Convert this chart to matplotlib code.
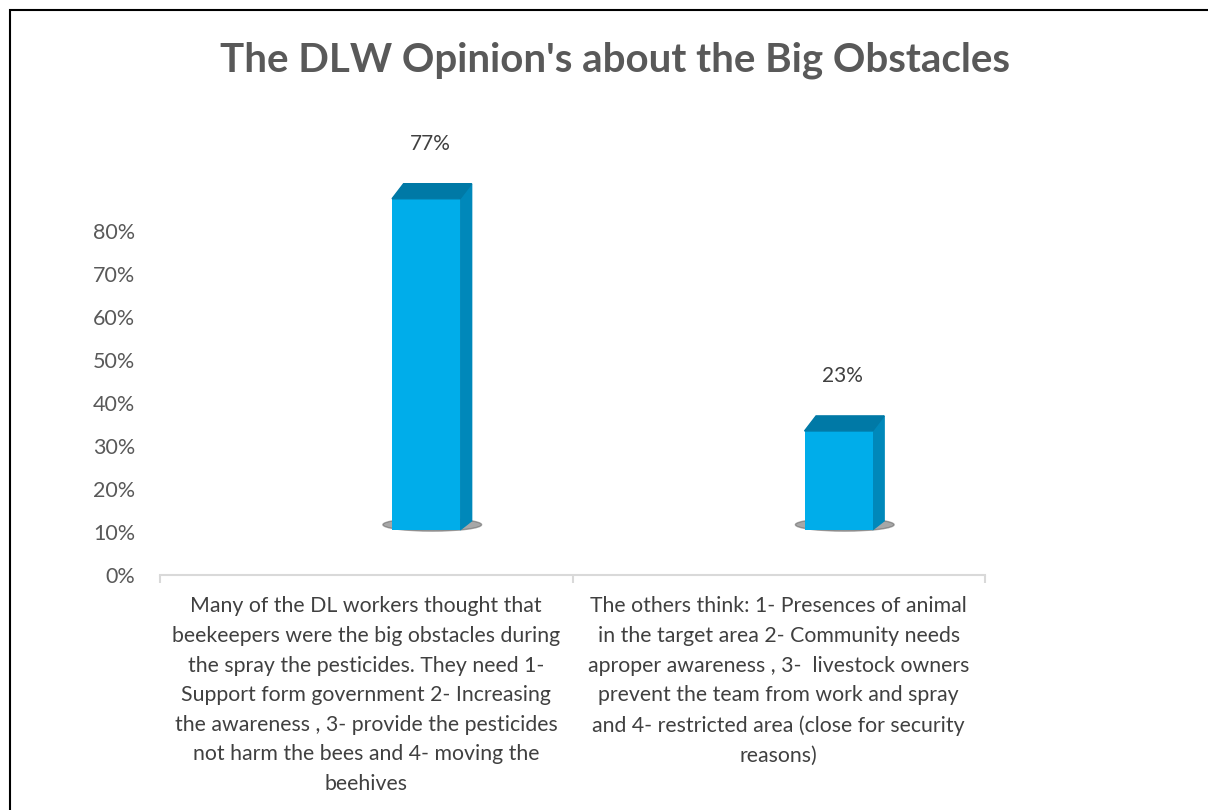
"""Recreate the 'DLW Opinion' 3D-style bar chart."""

import matplotlib.pyplot as plt
from matplotlib.patches import Polygon, Ellipse, Rectangle

CATEGORIES = [
    "Many of the DL workers thought that\nbeekeepers were the big obstacles during\n"
    "the spray the pesticides. They need 1-\nSupport form government 2- Increasing\n"
    "the awareness , 3- provide the pesticides\nnot harm the bees and 4- moving the\nbeehives",
    "The others think: 1- Presences of animal\nin the target area 2- Community needs\n"
    "aproper awareness , 3-  livestock owners\nprevent the team from work and spray\n"
    "and 4- restricted area (close for security\nreasons)",
]
VALUES = [0.77, 0.23]
Y_TICKS = [0.0, 0.1, 0.2, 0.3, 0.4, 0.5, 0.6, 0.7, 0.8]
TITLE = "The DLW Opinion's about the Big Obstacles"

# 3D look: floor offset, perspective shift, side/top depth
FLOOR = 0.105
SHIFT = 0.145
WIDTH = 0.165
DEPTH_X = 0.028
DEPTH_Y = 0.035

FRONT = "#00ADEA"
SIDE = "#0088BA"
TOP = "#0079A6"
TEXT = "#404040"

plt.rcParams["font.family"] = ["Lato", "DejaVu Sans"]

fig = plt.figure(figsize=(12.08, 8.1), dpi=100)
ax = fig.add_axes([160 / 1208, 1 - 575 / 810, 825 / 1208, 430 / 810])

xs = [i + SHIFT for i in range(len(VALUES))]
bars = ax.bar(xs, VALUES, bottom=FLOOR, width=WIDTH, color=FRONT, zorder=3)

for bar, value in zip(bars, VALUES):
    x0 = bar.get_x()
    x1 = x0 + bar.get_width()
    y0 = bar.get_y()
    y1 = y0 + bar.get_height()
    # shadow on floor
    ax.add_patch(Ellipse(((x0 + x1) / 2 + 0.015, y0 + 0.012), (x1 - x0) * 1.45, 0.03,
                         color="#606060", alpha=0.55, zorder=1))
    # side face
    ax.add_patch(Polygon([(x1, y0), (x1 + DEPTH_X, y0 + DEPTH_Y * 0.6),
                          (x1 + DEPTH_X, y1 + DEPTH_Y), (x1, y1)],
                         closed=True, color=SIDE, zorder=2))
    # top face
    ax.add_patch(Polygon([(x0, y1), (x0 + DEPTH_X, y1 + DEPTH_Y),
                          (x1 + DEPTH_X, y1 + DEPTH_Y), (x1, y1)],
                         closed=True, color=TOP, zorder=4))
    ax.text((x0 + x1) / 2 + 0.01, y1 + DEPTH_Y + 0.07, f"{value:.0%}",
            ha="center", va="bottom", fontsize=15, color=TEXT)

ax.set_xlim(-0.5, 1.5)
ax.set_ylim(0, 1.0)
ax.set_yticks(Y_TICKS)
ax.set_yticklabels([f"{t:.0%}" for t in Y_TICKS])
ax.tick_params(axis="y", length=0, pad=18, labelsize=15.5, labelcolor="#595959")

ax.set_xticks([-0.5, 0.5, 1.5])
ax.set_xticklabels([])
ax.tick_params(axis="x", length=6, color="#D9D9D9", width=1.5)
for i, label in enumerate(CATEGORIES):
    ax.text(i, -0.05, label, ha="center", va="top", fontsize=15.3,
            color=TEXT, linespacing=1.6, transform=ax.transData, clip_on=False)

for side in ["top", "right", "left"]:
    ax.spines[side].set_visible(False)
ax.spines["bottom"].set_color("#D9D9D9")
ax.spines["bottom"].set_linewidth(1.5)

fig.text(615 / 1208, 1 - 60 / 810, TITLE, ha="center", va="center",
         fontsize=29, fontweight="bold", color="#595959")

fig.patches.append(Rectangle((10 / 1208, -0.1), 1.2, 1 - 10 / 810 + 0.1,
                             transform=fig.transFigure, fill=False,
                             edgecolor="black", linewidth=1.5))

fig.savefig("out.png", dpi=100)
